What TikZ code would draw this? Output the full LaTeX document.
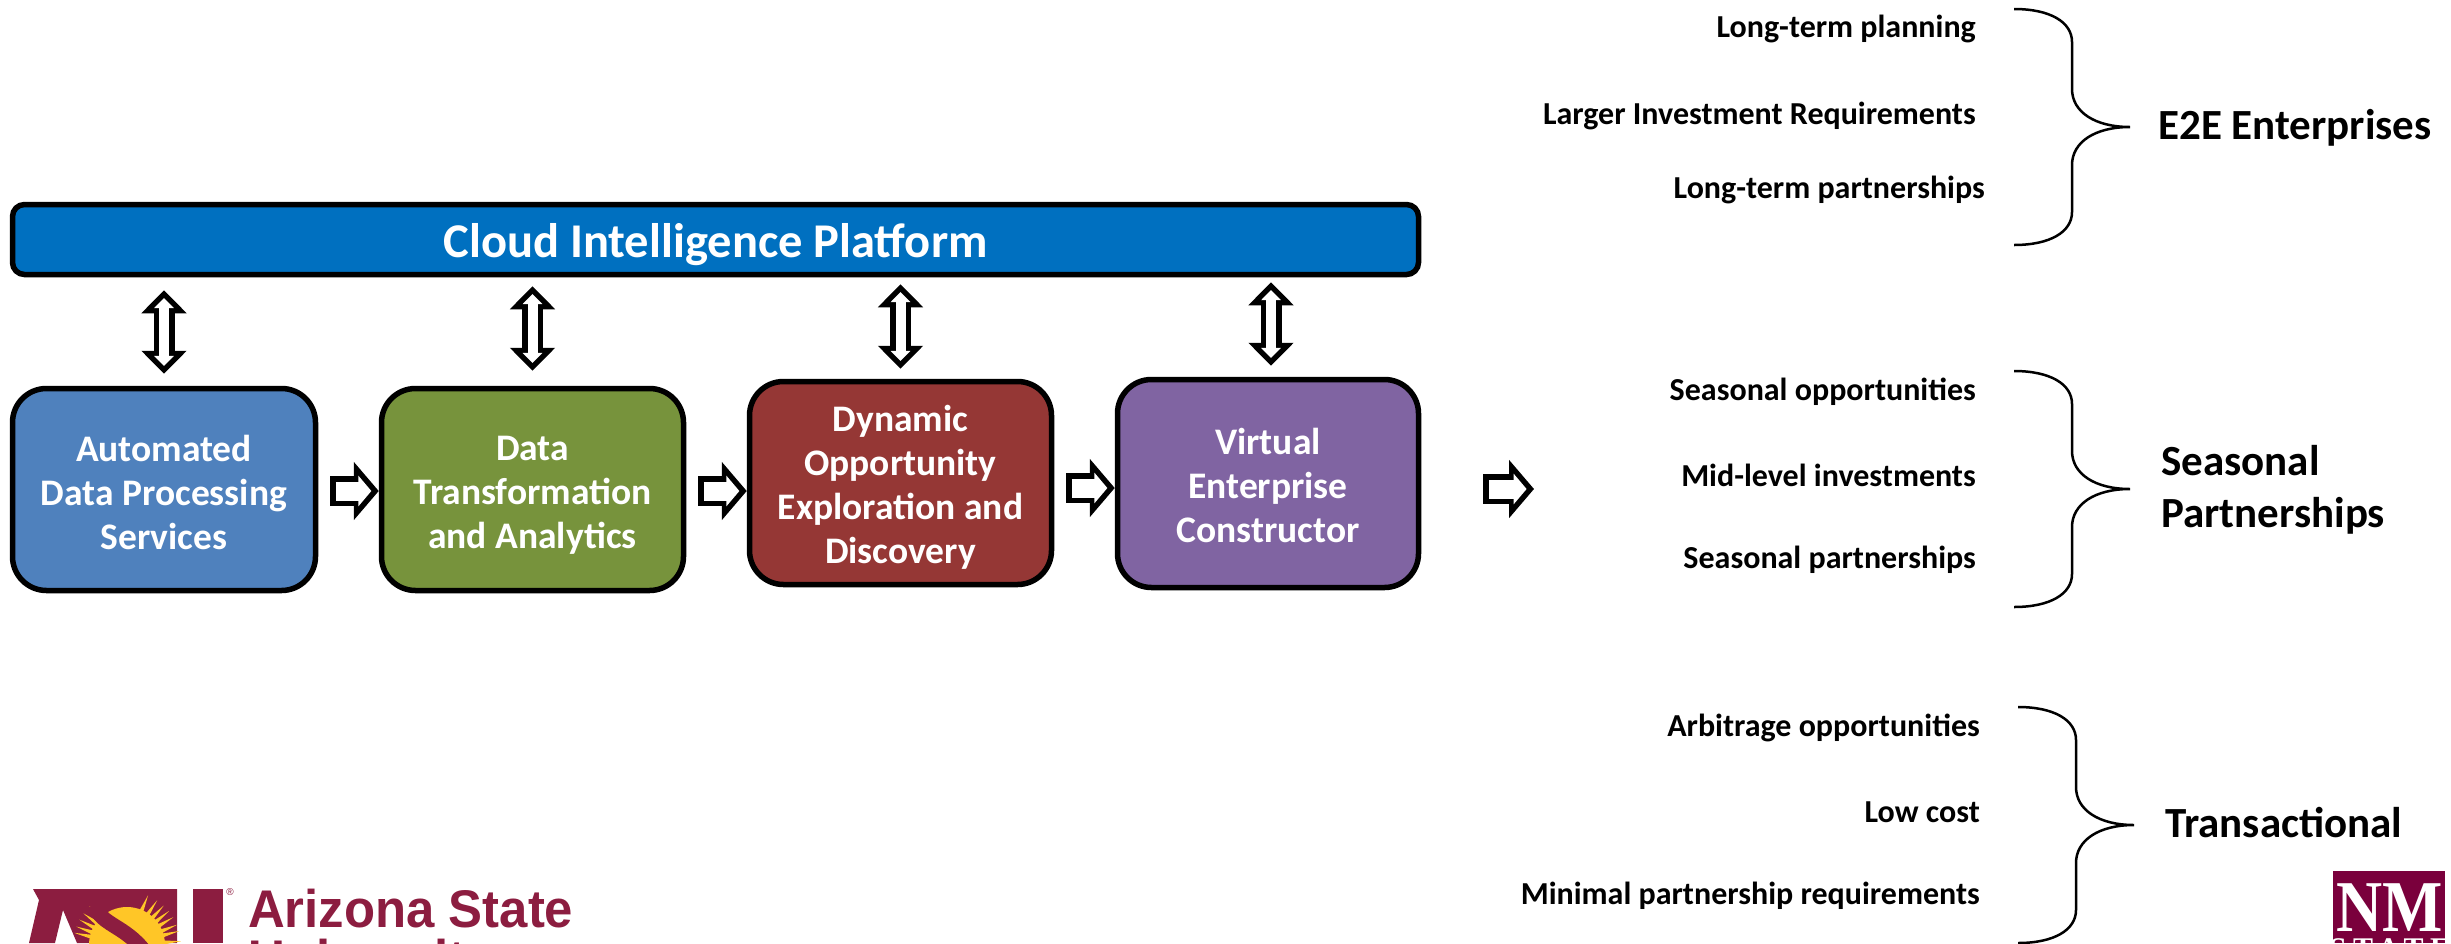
\documentclass[tikz,border=0pt]{standalone}
\usepackage{fontspec}
\setmainfont{Carlito}
\newfontfamily\asufont{Liberation Sans}
\newfontfamily\nmfont{Liberation Serif}
\newfontfamily\nmwide[LetterSpace=22]{Liberation Serif}
\usetikzlibrary{arrows.meta}
\definecolor{platformblue}{HTML}{0070C0}
\definecolor{boxblue}{HTML}{4F81BD}
\definecolor{boxgreen}{HTML}{77933C}
\definecolor{boxred}{HTML}{953735}
\definecolor{boxpurple}{HTML}{8064A2}
\definecolor{asumaroon}{HTML}{8C1D40}
\definecolor{asugold}{HTML}{FFC627}
\definecolor{nmmaroon}{HTML}{7A003C}
\tikzset{
  stage/.style={draw=black, line width=5.5pt, rounded corners=34pt, text=white, align=center,
    font=\fontsize{37.5}{44}\selectfont\bfseries},
  item/.style={anchor=base east, inner sep=0pt, font=\fontsize{32}{38}\selectfont\bfseries},
  kind/.style={anchor=base west, inner sep=0pt, font=\fontsize{43}{50}\selectfont\bfseries},
  flow/.style={line width=30pt, -{Triangle[length=25pt,width=57pt]},
    postaction={draw=white, line width=19pt, shorten <=5.5pt, shorten >=7.4pt,
      -{Triangle[length=13pt,width=30pt]}}},
  link/.style={line width=21pt, {Triangle[length=23pt,width=44pt]}-{Triangle[length=23pt,width=44pt]},
    postaction={draw=white, line width=10pt, shorten <=7.8pt, shorten >=7.8pt,
      {Triangle[length=10pt,width=19pt]}-{Triangle[length=10pt,width=19pt]}}},
  itembrace/.pic={
    \draw[line width=2.5pt] (-116,-118) .. controls (-80,-118) and (-58,-105) .. (-58,-85) -- (-58,-38)
      .. controls (-58,-15) and (-35,0) .. (0,0) .. controls (-35,0) and (-58,15) .. (-58,38)
      -- (-58,85) .. controls (-58,105) and (-80,118) .. (-116,118);
  }
}
\begin{document}
\begin{tikzpicture}[x=1pt,y=-1pt]
  \useasboundingbox (0,0) rectangle (2451,943);

  \node[draw=black, fill=platformblue, line width=5.5pt, rounded corners=12pt, minimum width=1406pt,
    minimum height=70pt, text=white, font=\fontsize{48.5}{56}\selectfont\bfseries] (platform) at (715.5,239.5) {\rule{0pt}{44pt}Cloud Intelligence Platform};

  \node[stage, fill=boxblue, minimum width=303pt, minimum height=202pt] (processing) at (164,489.5) {\rule{0pt}{32pt}Automated\\Data Processing\\Services};
  \node[stage, fill=boxgreen, minimum width=302pt, minimum height=202pt] (analytics) at (532.5,489.5) {\rule{0pt}{36pt}Data\\Transformation\\and Analytics};
  \node[stage, fill=boxred, minimum width=302pt, minimum height=203pt] (discovery) at (900.5,483) {\rule{0pt}{35pt}Dynamic\\Opportunity\\Exploration and\\Discovery};
  \node[stage, fill=boxpurple, minimum width=301pt, minimum height=208pt] (constructor) at (1268,483.5) {\rule{0pt}{30pt}Virtual\\Enterprise\\Constructor};

  \draw[flow] ([xshift=12pt,yshift=-1.5pt]processing.east) -- ([yshift=-1.5pt]analytics.west);
  \draw[flow] ([xshift=12pt,yshift=-1.5pt]analytics.east) -- ([yshift=-1.5pt]analytics.east -| discovery.west);
  \draw[flow] ([xshift=12pt,yshift=-5pt]discovery.east) -- ([yshift=-5pt]discovery.east -| constructor.west);
  \coordinate (outcome) at (1534,489);
  \draw[flow] ([xshift=62pt,yshift=-5.5pt]constructor.east) -- (outcome);

  \draw[link] ([yshift=12pt]processing.north) -- ([yshift=-13pt]processing.north |- platform.south);
  \draw[link] ([yshift=15pt]analytics.north) -- ([yshift=-9pt]analytics.north |- platform.south);
  \draw[link] ([yshift=10pt]discovery.north) -- ([yshift=-7pt]discovery.north |- platform.south);
  \draw[link] ([xshift=3pt,yshift=11pt]constructor.north) -- ([xshift=3pt,yshift=-5pt]constructor.north |- platform.south);

  \node[item] (planning) at (1976,37) {Long-term planning};
  \node[item] (investment) at (1976,124) {Larger Investment Requirements};
  \node[item] (longterm) at (1985,198) {Long-term partnerships};
  \pic at (2130,127) {itembrace};
  \node[kind] (enterprises) at (2158,139) {E2E Enterprises};

  \node[item] (opportunities) at (1976,400) {Seasonal opportunities};
  \node[item] (midlevel) at (1976,486) {Mid-level investments};
  \node[item] (seasonal) at (1976,568) {Seasonal partnerships};
  \pic at (2130,489) {itembrace};
  \node[kind] (seasonalkind) at (2161,475) {Seasonal};
  \node[kind] (partnerkind) at (2161,527) {Partnerships};

  \node[item] (arbitrage) at (1980,736) {Arbitrage opportunities};
  \node[item] (lowcost) at (1980,822) {Low cost};
  \node[item] (minimal) at (1980,904) {Minimal partnership requirements};
  \pic at (2134,825) {itembrace};
  \node[kind] (transactional) at (2165,837) {Transactional};

  % logos at the bottom edge
  \begin{scope}
    \clip (0,860) rectangle (2451,943);
    \fill[asumaroon] (33,889) -- (177,889) -- (177,943) -- (77,943) -- (63,910) -- (55,943) -- (29,943) -- (39,900) -- cycle;
    \fill[asumaroon] (193,889) rectangle (223,943);
    \fill[asugold] (127,945) circle (38);
    \foreach \ang in {4,15,22,31,39,47,56,67,134,144,152,160,167}
      \fill[asugold] ([shift={(-\ang+4:34)}]127,945) -- ([shift={(-\ang-4:34)}]127,945) -- ([shift={(-\ang:54)}]127,945) -- cycle;
    \draw[asumaroon, line width=15pt] (95,905) .. controls (100,925) and (125,925) .. (145,952);
    \node[inner sep=0pt, text=asumaroon, font=\fontsize{10}{10}\selectfont\asufont] (regmark) at (230,892) {®};
    \node[anchor=base west, inner sep=0pt, text=asumaroon, font=\fontsize{53}{58}\selectfont\asufont\bfseries] (asuname) at (248,927) {\scalebox{.96}[1]{Arizona State}};
    \node[anchor=base west, inner sep=0pt, text=asumaroon, font=\fontsize{53}{58}\selectfont\asufont\bfseries] (asuname2) at (248,977) {\scalebox{.96}[1]{University}};

    \fill[nmmaroon] (2333,871) rectangle (2445,943);
    \node[anchor=base, inner sep=0pt, text=white, font=\fontsize{73}{73}\selectfont\nmfont\bfseries] (nmname) at (2390,931) {\scalebox{.875}[1]{NM}};
    \node[anchor=base, inner sep=0pt, text=white, font=\fontsize{30}{30}\selectfont\nmwide\bfseries] (nmname2) at (2390,958) {STATE};
  \end{scope}
\end{tikzpicture}
\end{document}
